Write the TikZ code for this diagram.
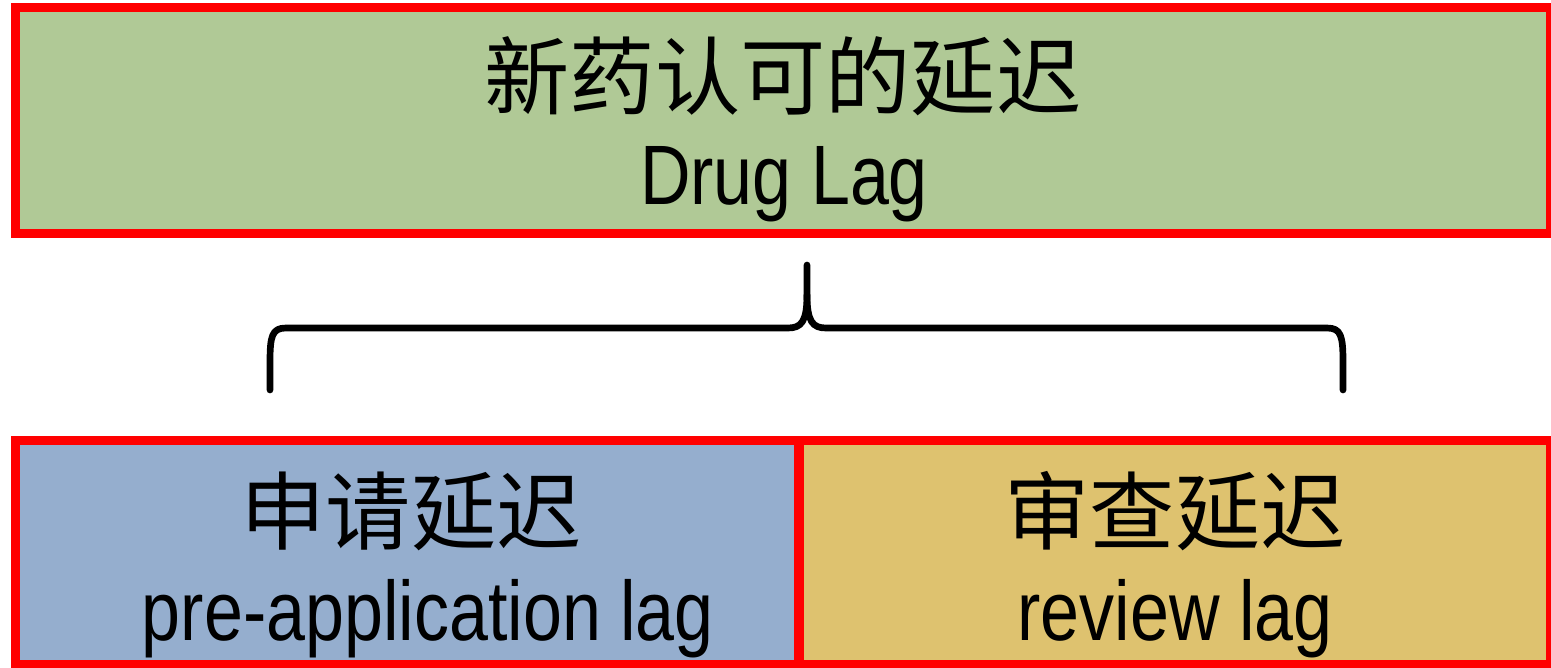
\documentclass[tikz,border=0pt]{standalone}
\usepackage{fontspec}
\setmainfont[FakeStretch=0.83]{Liberation Sans}
\newfontfamily\cjk{Noto Sans CJK SC}
\definecolor{boxred}{RGB}{255,0,0}
\definecolor{topgreen}{RGB}{176,201,150}
\definecolor{leftblue}{RGB}{149,174,206}
\definecolor{righttan}{RGB}{222,194,111}
\begin{document}
\begin{tikzpicture}[x=0.02cm,y=-0.02cm,
  lagbox/.style={draw=boxred,line width=5.1pt,inner sep=0pt,outer sep=0pt,rectangle},
  cntext/.style={font=\cjk\fontsize{48.5}{50}\selectfont,anchor=base,inner sep=0pt},
  entext/.style={font=\fontsize{48}{50}\selectfont,anchor=base,inner sep=0pt},
  bracestyle/.style={draw=black,line width=3.8pt,line cap=round,line join=round}]
\useasboundingbox (0,0) rectangle (1551,668);
\begin{scope}
\clip (0,0) rectangle (1551,668);
\node[lagbox,fill=topgreen,minimum width=30.7cm,minimum height=4.53cm] (top) at (783,120.75) {};
\node[lagbox,fill=leftblue,minimum width=15.67cm,minimum height=4.48cm] (pre) at (407.25,552) {};
\node[lagbox,fill=righttan,minimum width=15.03cm,minimum height=4.48cm] (rev) at (1174.75,552) {};
\end{scope}
\node[cntext] (topcn) at (783,109) {新药认可的延迟};
\node[entext] (topen) at (784,205) {Drug Lag};
\node[cntext] (precn) at (411,543) {申请延迟};
\node[entext] (preen) at (428,640) {pre-application lag};
\node[cntext] (revcn) at (1175,543) {审查延迟};
\node[entext] (reven) at (1175,640) {review lag};
\coordinate (bl) at (270,390);
\coordinate (br) at (1343,390);
\coordinate (tip) at (807,265);
\draw[bracestyle] (bl) -- (270,362) .. controls (270,336) and (272,328) .. (286,328)
  -- (788,328) .. controls (801,328) and (807,322) .. (807,295) -- (tip);
\draw[bracestyle] (br) -- (1343,362) .. controls (1343,336) and (1341,328) .. (1327,328)
  -- (826,328) .. controls (813,328) and (807,322) .. (807,295);
\end{tikzpicture}
\end{document}
